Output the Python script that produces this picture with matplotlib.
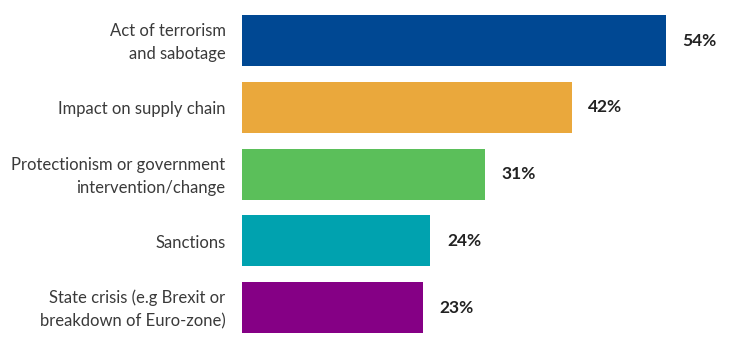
import matplotlib.pyplot as plt

categories = [
    "Act of terrorism\nand sabotage",
    "Impact on supply chain",
    "Protectionism or government\nintervention/change",
    "Sanctions",
    "State crisis (e.g Brexit or\nbreakdown of Euro-zone)",
]
values = [54, 42, 31, 24, 23]
colors = ["#004893", "#EAA83C", "#5BBF5A", "#00A2AF", "#850085"]

plt.rcParams["font.family"] = ["Lato", "DejaVu Sans"]

fig = plt.figure(figsize=(7.29, 3.48), dpi=100)
ax = fig.add_axes([242 / 729, 0.02, 471 / 729, 0.959])

y = list(range(len(values)))
ax.barh(y, values, height=0.765, color=colors)

for yi, v in zip(y, values):
    ax.text(v + 2.1, yi, f"{v}%", va="center", ha="left",
            fontsize=12.5, fontweight="bold", color="#222222")

for yi, lab in zip(y, categories):
    ax.text(-2.1, yi + 0.03, lab, va="center", ha="right", fontsize=12,
            color="#3a3a3a", linespacing=1.55)

ax.set_xlim(0, 60)
ax.set_ylim(4.5, -0.5)
ax.axis("off")

fig.savefig("out.png", dpi=100)
